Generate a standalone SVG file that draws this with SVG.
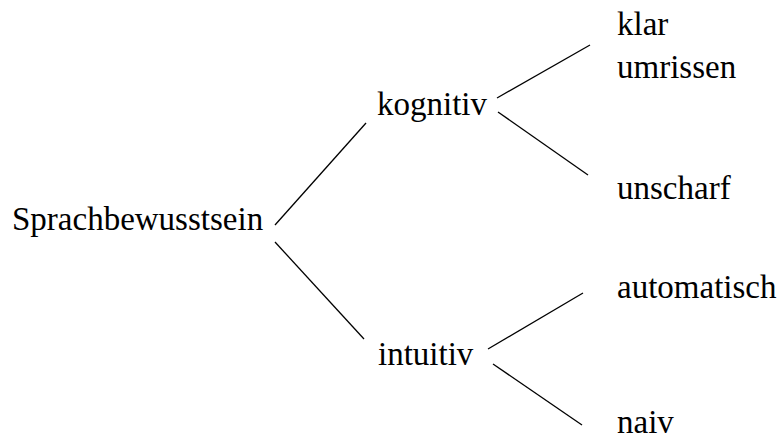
<svg xmlns="http://www.w3.org/2000/svg" width="779" height="443" viewBox="0 0 779 443">
<style>
.c line{stroke:#000;stroke-width:1.3}
</style>
<rect width="779" height="443" fill="#fff"/>
<g class="c" id="connectors">
<line x1="275" y1="225" x2="366" y2="123"/>
<line x1="275" y1="242" x2="364" y2="339"/>
<line x1="497" y1="98" x2="590" y2="45"/>
<line x1="498" y1="112" x2="588" y2="175"/>
<line x1="488" y1="349" x2="583" y2="293"/>
<line x1="493" y1="364" x2="582" y2="425"/>
</g>
<g font-family="Liberation Serif" font-size="33" fill="#000">
<g id="sprachbewusstsein"><text x="12" y="230">Sprachbewusstsein</text></g>
<g id="kognitiv"><text x="377" y="115">kognitiv</text></g>
<g id="intuitiv"><text x="378" y="365">intuitiv</text></g>
<g id="klar-umrissen"><text x="617" y="35">klar</text><text x="617" y="78">umrissen</text></g>
<g id="unscharf"><text x="617" y="199">unscharf</text></g>
<g id="automatisch"><text x="617" y="298">automatisch</text></g>
<g id="naiv"><text x="617" y="433">naiv</text></g>
</g>
</svg>
